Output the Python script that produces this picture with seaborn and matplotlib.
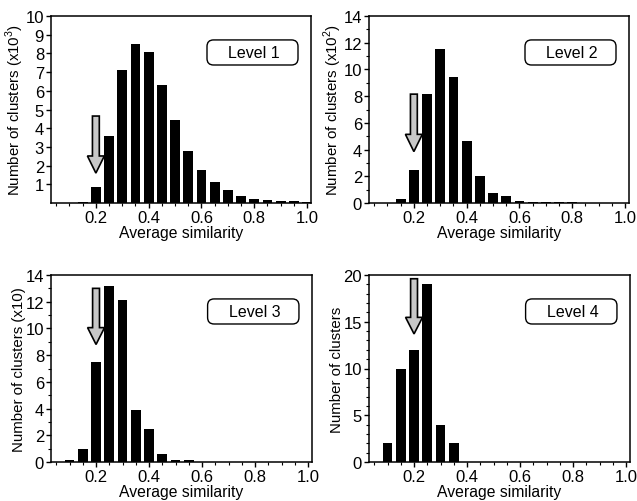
import matplotlib
matplotlib.use("Agg")
import matplotlib.pyplot as plt
from matplotlib.patches import FancyBboxPatch
from matplotlib.ticker import MultipleLocator, FixedLocator
import numpy as np
import pandas as pd
import seaborn as sns

# bin centres (average similarity) and counts per level
sim_level1 = [0.15, 0.20, 0.25, 0.30, 0.35, 0.40, 0.45, 0.50, 0.55, 0.60,
              0.65, 0.70, 0.75, 0.80, 0.85, 0.90, 0.95, 1.00]
cnt_level1 = [0.08, 0.85, 3.6, 7.1, 8.5, 8.1, 6.3, 4.45, 2.8, 1.75,
              1.1, 0.7, 0.4, 0.22, 0.15, 0.12, 0.09, 0.08]

sim_level2 = [0.15, 0.20, 0.25, 0.30, 0.35, 0.40, 0.45, 0.50, 0.55, 0.60,
              0.65, 0.70, 0.75, 0.80]
cnt_level2 = [0.3, 2.5, 8.15, 11.55, 9.4, 4.65, 2.0, 0.75, 0.5, 0.18,
              0.1, 0.1, 0.07, 0.04]

sim_level3 = [0.10, 0.15, 0.20, 0.25, 0.30, 0.35, 0.40, 0.45, 0.50, 0.55]
cnt_level3 = [0.15, 1.0, 7.5, 13.2, 12.1, 3.9, 2.45, 0.6, 0.15, 0.15]

sim_level4 = [0.10, 0.15, 0.20, 0.25, 0.30, 0.35]
cnt_level4 = [2, 10, 12, 19, 4, 2]

level_names = ["Level 1", "Level 2", "Level 3", "Level 4"]
y_labels = ["Number of clusters (x10$^3$)", "Number of clusters (x10$^2$)",
            "Number of clusters (x10)", "Number of clusters"]
# arrow start / end (in y units) at similarity 0.2
arrow_top = [4.65, 8.15, 13.0, 19.6]
arrow_tip = [1.6, 3.85, 8.8, 13.7]

sns.set_theme(style="ticks")
plt.rcParams['font.family'] = ['Liberation Sans', 'DejaVu Sans']
plt.rcParams['mathtext.fontset'] = 'custom'
plt.rcParams['mathtext.rm'] = 'Liberation Sans'

fig = plt.figure(figsize=(6.37, 5.02), dpi=100)
W, H = 637, 502
boxes = [(51, 17, 311, 204), (369, 17, 629, 204),
         (51, 276, 312, 463), (369, 276, 630, 463)]

data = [(sim_level1, cnt_level1), (sim_level2, cnt_level2),
        (sim_level3, cnt_level3), (sim_level4, cnt_level4)]
ylims = [10, 14, 14, 20]

for i, (sims, cnts) in enumerate(data):
    l, t, r, b = boxes[i]
    ax = fig.add_axes([l / W, 1 - b / H, (r - l) / W, (b - t) / H])
    df = pd.DataFrame({"sim": sims, "count": cnts})
    sns.barplot(data=df, x="sim", y="count", native_scale=True, width=0.74,
                color="black", saturation=1, edgecolor="none", ax=ax)
    ax.set_xlim(0.03, 1.015)
    ax.set_ylim(0, ylims[i])
    ax.xaxis.set_major_locator(FixedLocator([0.2, 0.4, 0.6, 0.8, 1.0]))
    ax.xaxis.set_major_formatter(plt.FuncFormatter(lambda v, p: f"{v:.1f}"))
    ax.xaxis.set_minor_locator(MultipleLocator(0.05))
    if i == 0:
        ax.yaxis.set_major_locator(FixedLocator(range(1, 11)))
    elif i == 3:
        ax.yaxis.set_major_locator(MultipleLocator(5))
        ax.yaxis.set_minor_locator(MultipleLocator(1))
    else:
        ax.yaxis.set_major_locator(MultipleLocator(2))
        ax.yaxis.set_minor_locator(MultipleLocator(1))
    ax.tick_params(which="major", direction="out", length=3.5, width=1,
                   labelsize=12, pad=1.5, color="black", labelcolor="black")
    ax.tick_params(which="minor", direction="out", length=2, width=0.8,
                   color="black")
    for sp in ax.spines.values():
        sp.set_visible(True)
        sp.set_linewidth(1.1)
        sp.set_color("black")
    ax.set_xlabel("Average similarity", fontsize=11.3, labelpad=0, color="black")
    ax.set_ylabel(y_labels[i], fontsize=10.8, labelpad=-0.5, color="black")

    ax.arrow(0.2, arrow_top[i], 0, arrow_tip[i] - arrow_top[i],
             width=0.026, head_width=0.064,
             head_length=(arrow_top[i] - arrow_tip[i]) * 0.3,
             length_includes_head=True, fc="#c8c8c8", ec="black", lw=1.2,
             zorder=5)

    box = FancyBboxPatch((0.6, 0.738), 0.35, 0.134, transform=ax.transAxes,
                         boxstyle="round,pad=0,rounding_size=0.025",
                         fc="white", ec="black", lw=1.0, zorder=6,
                         mutation_aspect=1.4)
    ax.add_patch(box)
    ax.text(0.78, 0.805, level_names[i], transform=ax.transAxes,
            ha="center", va="center", fontsize=11.5, color="black", zorder=7)

fig.savefig("out.png", dpi=100)
